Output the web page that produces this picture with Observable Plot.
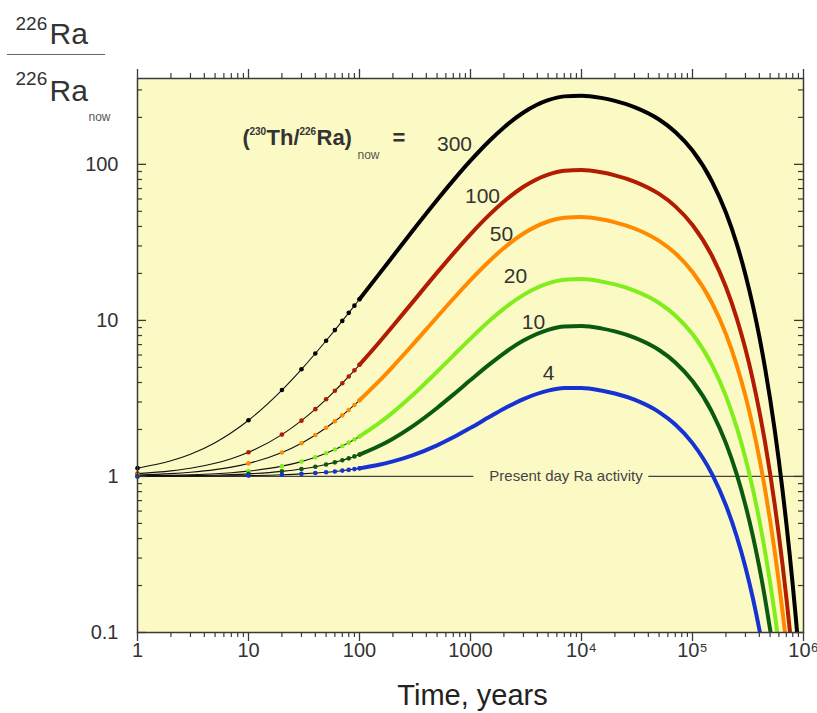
<!DOCTYPE html>
<html><head><meta charset="utf-8">
<script src="https://cdn.jsdelivr.net/npm/d3@7"></script>
<script src="https://cdn.jsdelivr.net/npm/@observablehq/plot@0.6"></script>
<style>
body{margin:0;background:#fff;}
#wrap{position:relative;width:817px;height:713px;font-family:"Liberation Sans",Arial,sans-serif;}
#wrap svg{position:absolute;left:0;top:0;}
#fracline{position:absolute;left:7px;top:54px;width:98px;height:0;border-top:1.5px solid #666;z-index:2;}
</style></head><body><div id="wrap"><div id="fracline"></div></div>
<script>
// Time (years) at which the curves were read
const years = [1,2,3,5,7,10,20,30,40,50,60,70,80,90,100,150,200,300,500,700,1000,1500,2000,3000,5000,7000,1e4,1.5e4,2e4,3e4,5e4,7e4,1e5,1.5e5,2e5,2.5e5,3e5,3.5e5,4e5,4.5e5,5e5,5.5e5,6e5,6.5e5,7e5,7.5e5,8e5,8.5e5,9e5];
// 226Ra / 226Ra_now for each (230Th/226Ra)_now value
const ratio300 = [1.13,1.259,1.388,1.646,1.904,2.292,3.579,4.860,6.136,7.405,8.669,9.928,11.18,12.43,13.67,19.80,25.79,37.39,59.09,78.95,105.6,142.8,172.5,214.9,257.8,272.7,275.6,266.7,255.1,232.9,193.9,161.4,122.7,77.60,49.09,31.05,19.64,12.43,7.861,4.973,3.146,1.990,1.259,0.7962,0.5039,0.3187,0.2017,0.1275,0.0806];
const ratio100 = [1.043,1.086,1.128,1.214,1.299,1.428,1.854,2.278,2.700,3.121,3.539,3.956,4.371,4.784,5.195,7.224,9.209,13.05,20.23,26.81,35.63,47.95,57.77,71.81,85.99,90.94,91.89,88.90,85.04,77.62,64.63,53.81,40.89,25.87,16.36,10.35,6.547,4.142,2.620,1.658,1.049,0.6633,0.4197,0.2654,0.1680,0.1062,0.0672,null,null];
const ratio50 = [1.021,1.042,1.064,1.106,1.148,1.212,1.423,1.633,1.842,2.050,2.257,2.463,2.668,2.873,3.076,4.081,5.063,6.963,10.52,13.77,18.14,24.23,29.10,36.04,43.05,45.49,45.95,44.45,42.52,38.81,32.31,26.91,20.44,12.93,8.182,5.175,3.273,2.071,1.310,0.8288,0.5243,0.3317,0.2098,0.1327,0.0840,null,null,null,null];
const ratio20 = [1.008,1.016,1.025,1.041,1.057,1.082,1.164,1.245,1.326,1.407,1.487,1.567,1.647,1.726,1.805,2.195,2.575,3.312,4.691,5.952,7.645,10.01,11.89,14.58,17.29,18.23,18.39,17.78,17.01,15.52,12.93,10.76,8.177,5.173,3.273,2.070,1.309,0.8284,0.5241,0.3315,0.2097,0.1327,0.0839,null,null,null,null,null,null];
const ratio10 = [1.004,1.008,1.012,1.019,1.027,1.039,1.078,1.116,1.155,1.193,1.231,1.269,1.306,1.344,1.381,1.566,1.746,2.095,2.748,3.345,4.147,5.265,6.156,7.427,8.702,9.137,9.201,8.891,8.504,7.762,6.463,5.381,4.089,2.587,1.636,1.035,0.6547,0.4142,0.2620,0.1658,0.1049,0.0663,null,null,null,null,null,null,null];
const ratio4 = [1.001,1.003,1.004,1.007,1.009,1.013,1.026,1.039,1.052,1.064,1.077,1.090,1.102,1.115,1.127,1.189,1.249,1.365,1.582,1.781,2.048,2.419,2.715,3.134,3.550,3.684,3.688,3.557,3.402,3.105,2.585,2.152,1.635,1.035,0.6545,0.4140,0.2619,0.1657,0.1048,0.0663,null,null,null,null,null,null,null,null,null];

const seriesNames = ["300","100","50","20","10","4"];
const seriesColors = ["#000000","#b21c02","#ff8a00","#7fee1c","#0b5a12","#1632d2"];
const seriesValues = [ratio300, ratio100, ratio50, ratio20, ratio10, ratio4];

const xMajor = [1,10,100,1000,1e4,1e5,1e6];
const xLabels = ["1","10","100","1000","10\u2074","10\u2075","10\u2076"];
const xMinor = [2,3,4,5,6,7,8,9,20,30,40,50,60,70,80,90,200,300,400,500,600,700,800,900,2000,3000,4000,5000,6000,7000,8000,9000,2e4,3e4,4e4,5e4,6e4,7e4,8e4,9e4,2e5,3e5,4e5,5e5,6e5,7e5,8e5,9e5];
const yMajor = [0.1,1,10,100];
const yLabels = ["0.1","1","10","100"];
const yMinor = [0.2,0.3,0.4,0.5,0.6,0.7,0.8,0.9,2,3,4,5,6,7,8,9,20,30,40,50,60,70,80,90,200,300];

const W = 817, H = 713, ML = 137, MR = 14, MT = 78, MB = 81;
const PW = W - ML - MR, PH = H - MT - MB;
const ink = "#333";
const axisInk = "#3a3a3a";

const rows = [];
seriesNames.forEach((name, s) => years.forEach((t, i) => {
  const v = seriesValues[s][i];
  if (v != null) rows.push({name, t, v});
}));

// text placed by pixel offsets from the frame's top-left corner (baseline at py)
const txt = (s, px, py, o = {}) => Plot.text([s], {
  frameAnchor: "top-left", dx: px - ML, dy: py - MT, text: d => d,
  textAnchor: "start", lineAnchor: "bottom", fill: ink, ...o
});
const ctr = (s, px, py, o = {}) => Plot.text([s], {
  frameAnchor: "top-left", dx: px - ML, dy: py - MT, text: d => d,
  textAnchor: "middle", lineAnchor: "middle", fill: ink, ...o
});

const chart = Plot.plot({
  width: W, height: H,
  marginLeft: ML, marginRight: MR, marginTop: MT, marginBottom: MB,
  x: {type: "log", domain: [1, 1e6], axis: null},
  y: {type: "log", domain: [0.1, 355], axis: null},
  color: {domain: seriesNames, range: seriesColors},
  style: {fontFamily: '"Liberation Sans", Arial, sans-serif', background: "transparent", overflow: "visible"},
  marks: [
    Plot.frame({fill: "#fcfac4", stroke: null}),
    // present day line
    Plot.ruleY([1], {x1: 1, x2: 1070, stroke: "#444", strokeWidth: 1.3}),
    Plot.ruleY([1], {x1: 40400, x2: 1e6, stroke: "#444", strokeWidth: 1.3}),
    Plot.text(["Present day Ra activity"], {x: 7250, y: 1, text: d => d, fontSize: 15, fill: "#444"}),
    // thin early part with markers
    Plot.line(rows.filter(d => d.t <= 150), {x: "t", y: "v", z: "name", stroke: "#111", strokeWidth: 1.1, curve: "monotone-x"}),
    Plot.dot(rows.filter(d => d.t === 1 || (d.t >= 10 && d.t <= 100)), {x: "t", y: "v", fill: "name", r: 2.3}),
    // thick part
    Plot.line(rows.filter(d => d.t >= 100), {x: "t", y: "v", z: "name", stroke: "name", strokeWidth: 4, curve: "monotone-x", clip: true, strokeLinejoin: "round"}),
    // frame and ticks
    Plot.frame({stroke: axisInk, strokeWidth: 1.5}),
    Plot.ruleX(xMinor, {insetTop: PH, insetBottom: -5, stroke: axisInk, strokeWidth: 1.2}),
    Plot.ruleX(xMajor, {insetTop: PH, insetBottom: -9, stroke: axisInk, strokeWidth: 1.3}),
    Plot.ruleX(xMinor, {insetTop: -5, insetBottom: PH, stroke: axisInk, strokeWidth: 1.2}),
    Plot.ruleX(xMajor, {insetTop: -9, insetBottom: PH, stroke: axisInk, strokeWidth: 1.3}),
    Plot.ruleY(yMinor, {insetRight: PW - 5, stroke: axisInk, strokeWidth: 1.2}),
    Plot.ruleY(yMajor, {insetRight: PW - 9, stroke: axisInk, strokeWidth: 1.3}),
    Plot.ruleY(yMinor, {insetLeft: PW - 5, stroke: axisInk, strokeWidth: 1.2}),
    Plot.ruleY(yMajor, {insetLeft: PW - 9, stroke: axisInk, strokeWidth: 1.3}),
    // tick labels
    Plot.text(xMajor, {x: d => d, text: (d, i) => xLabels[i], frameAnchor: "bottom", dy: 24, fontSize: 20, fill: ink}),
    Plot.text(yMajor, {y: d => d, text: (d, i) => yLabels[i], frameAnchor: "left", textAnchor: "end", dx: -19, fontSize: 20, fill: ink}),
    // x title
    ctr("Time, years", 472, 695, {fontSize: 29, fill: "#222"}),
    // y title (fraction)
    txt("226", 15, 29, {fontSize: 19}),
    txt("Ra", 49, 43, {fontSize: 30}),
    txt("226", 15, 84, {fontSize: 19}),
    txt("Ra", 49, 100, {fontSize: 30}),
    txt("now", 88, 120, {fontSize: 12, fill: "#555"}),
    // legend-like annotation
    txt("(", 242, 144, {fontSize: 22, fontWeight: "bold"}),
    txt("230", 249, 134, {fontSize: 10, fontWeight: "bold"}),
    txt("Th/", 266, 144, {fontSize: 22, fontWeight: "bold"}),
    txt("226", 299, 134, {fontSize: 10, fontWeight: "bold"}),
    txt("Ra)", 316, 144, {fontSize: 22, fontWeight: "bold"}),
    txt("now", 357, 158, {fontSize: 12, fill: "#555"}),
    txt("=", 392, 144, {fontSize: 22, fontWeight: "bold"}),
    // curve labels
    ctr("300", 454, 144, {fontSize: 21}),
    ctr("100", 482, 196, {fontSize: 21}),
    ctr("50", 501, 234, {fontSize: 21}),
    ctr("20", 515, 276, {fontSize: 21}),
    ctr("10", 533, 322, {fontSize: 21}),
    ctr("4", 548, 373, {fontSize: 21})
  ]
});
document.getElementById("wrap").appendChild(chart);
</script>
</body></html>
